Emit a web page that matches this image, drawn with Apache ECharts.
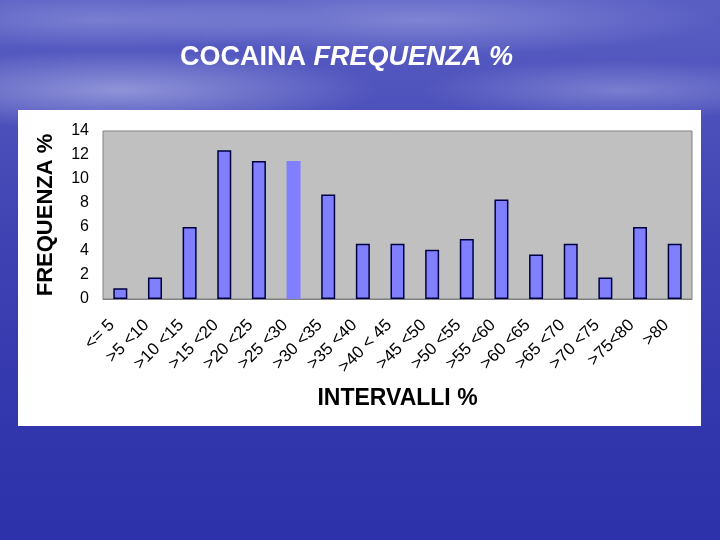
<!DOCTYPE html>
<html>
<head>
<meta charset="utf-8">
<script src="https://cdn.jsdelivr.net/npm/echarts@6/dist/echarts.min.js"></script>
<style>
html,body{margin:0;padding:0;width:720px;height:540px;overflow:hidden;}
body{
  background:
    radial-gradient(ellipse 260px 40px at 120px 90px, rgba(220,225,250,0.45), rgba(220,225,250,0) 100%),
    radial-gradient(ellipse 300px 35px at 420px 20px, rgba(200,205,245,0.35), rgba(200,205,245,0) 100%),
    radial-gradient(ellipse 200px 30px at 620px 90px, rgba(200,205,245,0.35), rgba(200,205,245,0) 100%),
    radial-gradient(ellipse 220px 30px at 100px 20px, rgba(200,205,245,0.3), rgba(200,205,245,0) 100%),
    linear-gradient(to bottom, #5a5fc4 0%, #4d51bb 20%, #3e42b2 45%, #3236ad 80%, #2e32aa 100%);
}
#c{width:720px;height:540px;}
</style>
</head>
<body>
<div id="c"></div>
<script>
var categories = ["<= 5", ">5 <10", ">10 <15", ">15 <20", ">20 <25", ">25 <30", ">30 <35", ">35 <40", ">40 < 45", ">45 <50", ">50 <55", ">55 <60", ">60 <65", ">65 <70", ">70 <75", ">75<80", ">80"];
var frequenza = [0.9, 1.8, 6.0, 12.4, 11.5, 11.5, 8.7, 4.6, 4.6, 4.1, 5.0, 8.3, 3.7, 4.6, 1.8, 6.0, 4.6];
var yTicks = [0, 2, 4, 6, 8, 10, 12, 14];

var chart = echarts.init(document.getElementById('c'), null, {renderer: 'canvas'});
var FONT = '"Liberation Sans", Arial, sans-serif';
var barData = frequenza.map(function (v, i) {
  if (i === 5) return {value: v, itemStyle: {borderWidth: 0}};
  return v;
});
chart.setOption({
  backgroundColor: 'transparent',
  animation: false,
  graphic: [{
    type: 'rect', z: -10, silent: true,
    shape: {x: 18, y: 110, width: 683, height: 316},
    style: {fill: '#ffffff'}
  }],
  title: {
    text: '{n|COCAINA }{i|FREQUENZA %}',
    left: 175, top: 39,
    textStyle: {
      rich: {
        n: {fontFamily: FONT, fontSize: 27, color: '#ffffff', fontWeight: 'bold'},
        i: {fontFamily: FONT, fontSize: 27, color: '#ffffff', fontStyle: 'italic', fontWeight: 'bold'}
      }
    }
  },
  grid: {
    left: 103, right: 28, top: 131, bottom: 241,
    show: true, backgroundColor: '#c0c0c0', borderColor: '#808080', borderWidth: 1
  },
  xAxis: {
    type: 'category',
    data: categories,
    name: 'INTERVALLI %',
    nameLocation: 'middle',
    nameGap: 88,
    nameTextStyle: {fontFamily: FONT, fontSize: 23, fontWeight: 'bold', color: '#000'},
    axisLine: {show: true, lineStyle: {color: '#808080', width: 1}},
    axisTick: {show: false},
    axisLabel: {rotate: 45, interval: 0, fontFamily: FONT, fontSize: 17, color: '#000', margin: 15, padding: [0, 12, 0, 0]}
  },
  yAxis: {
    type: 'value',
    min: 0, max: 14, interval: 2,
    name: 'FREQUENZA %',
    nameLocation: 'middle',
    nameGap: 46,
    nameRotate: 90,
    nameTextStyle: {fontFamily: FONT, fontSize: 22, fontWeight: 'bold', color: '#000'},
    axisLine: {show: false},
    axisTick: {show: false},
    splitLine: {show: false},
    axisLabel: {
      fontFamily: FONT, fontSize: 16, color: '#000', margin: 14,
      formatter: function (v) { return yTicks.indexOf(v) >= 0 ? String(v) : ''; }
    }
  },
  series: [{
    type: 'bar',
    data: barData,
    barWidth: 14,
    itemStyle: {color: '#8080ff', borderColor: '#000040', borderWidth: 1.5}
  }]
});
</script>
</body>
</html>
